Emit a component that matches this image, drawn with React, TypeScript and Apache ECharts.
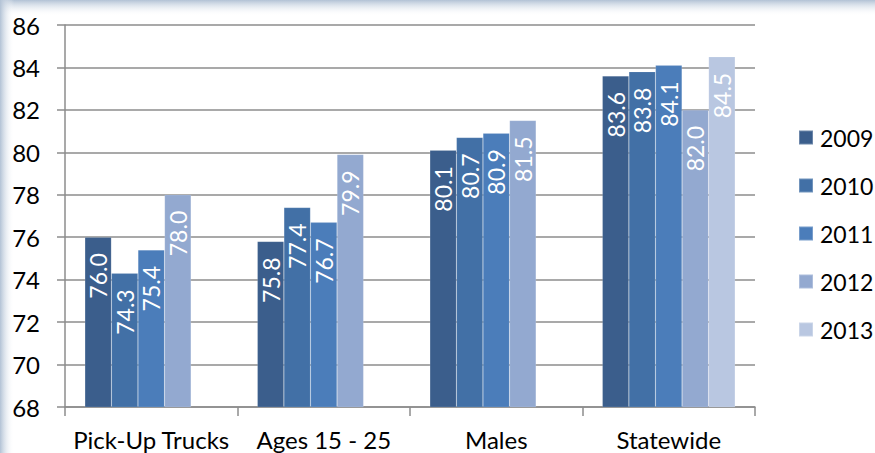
import React, { useEffect, useRef } from "react";
import * as echarts from "echarts";

const categories = ["Pick-Up Trucks", "Ages 15 - 25", "Males", "Statewide"];
const years = ["2009", "2010", "2011", "2012", "2013"];
const values2009 = [76.0, 75.8, 80.1, 83.6];
const values2010 = [74.3, 77.4, 80.7, 83.8];
const values2011 = [75.4, 76.7, 80.9, 84.1];
const values2012 = [78.0, 79.9, 81.5, 82.0];
const values2013: (number | string)[] = ["-", "-", "-", 84.5];
const yTicks = { min: 68, max: 86, interval: 2 };
const colors = ["#3b5e8c", "#4270a6", "#4b7dba", "#93a9d0", "#b9c7e1"];

const FONT = "Lato";

export default function App() {
  const ref = useRef<HTMLDivElement>(null);
  useEffect(() => {
    document.body.style.margin = "0";
    const chart = echarts.init(ref.current!, null, { renderer: "svg" });
    const seriesValues = [values2009, values2010, values2011, values2012, values2013];
    chart.setOption({
      animation: false,
      backgroundColor: "#ffffff",
      color: colors,
      graphic: [
        {
          type: "rect",
          left: 0,
          top: 0,
          shape: { width: 875, height: 16 },
          style: {
            fill: new echarts.graphic.LinearGradient(0, 0, 0, 1, [
              { offset: 0, color: "#b2c2d5" },
              { offset: 1, color: "rgba(255,255,255,0)" },
            ]),
          },
          z: -1,
        },
        {
          type: "rect",
          left: 0,
          top: 0,
          shape: { width: 14, height: 453 },
          style: {
            fill: new echarts.graphic.LinearGradient(0, 0, 1, 0, [
              { offset: 0, color: "#b2c2d5" },
              { offset: 1, color: "rgba(255,255,255,0)" },
            ]),
          },
          z: -1,
        },
      ],
      grid: { left: 65, right: 120, top: 25, bottom: 46 },
      legend: {
        orient: "vertical",
        left: 798,
        top: 126,
        padding: 0,
        itemWidth: 14,
        itemHeight: 14,
        itemGap: 25,
        icon: "rect",
        data: years,
        textStyle: { fontFamily: FONT, fontSize: 23, color: "#000", lineHeight: 23, padding: [0, 0, 0, 2] },
      },
      xAxis: {
        type: "category",
        data: categories,
        axisLine: { lineStyle: { color: "#8c8c8c", width: 1.5 } },
        axisTick: { show: true, length: 9, lineStyle: { color: "#8c8c8c", width: 1.5 } },
        axisLabel: { interval: 0, fontFamily: FONT, fontSize: 24, color: "#000", margin: 20 },
      },
      yAxis: {
        type: "value",
        min: yTicks.min,
        max: yTicks.max,
        interval: yTicks.interval,
        axisLine: { show: true, lineStyle: { color: "#8c8c8c", width: 1.5 } },
        axisTick: { show: true, length: 8, lineStyle: { color: "#8c8c8c", width: 1.5 } },
        axisLabel: { fontFamily: FONT, fontSize: 24, color: "#000", margin: 25 },
        splitLine: { show: true, lineStyle: { color: "#8c8c8c", width: 1.5 } },
      },
      series: years.map((y, i) => ({
        name: y,
        type: "bar",
        data: seriesValues[i],
        barGap: "0%",
        barCategoryGap: "23%",
        itemStyle: { color: colors[i], borderColor: "rgba(255,255,255,0.25)", borderWidth: 0.5 },
        label: {
          show: true,
          position: "insideTop",
          rotate: 90,
          align: "right",
          verticalAlign: "middle",
          distance: 16,
          color: "#ffffff",
          fontFamily: FONT,
          fontSize: 23,
          formatter: (p: any) => Number(p.value).toFixed(1),
        },
      })),
    });
    return () => chart.dispose();
  }, []);
  return <div ref={ref} style={{ width: 875, height: 453 }} />;
}
